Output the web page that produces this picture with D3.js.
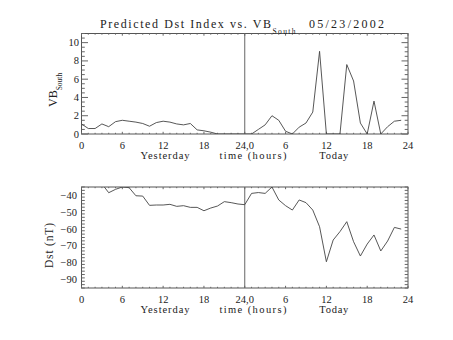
<!DOCTYPE html>
<html><head><meta charset="utf-8">
<script src="https://cdn.jsdelivr.net/npm/d3@7"></script>
<style>
html,body{margin:0;padding:0;background:#fff;}
svg text{font-family:"Liberation Serif","DejaVu Serif",serif;fill:#222;}
</style></head>
<body>
<svg id="c" width="453" height="340"></svg>
<script>
// ---- data ----
const hours = [0,1,2,3,4,5,6,7,8,9,10,11,12,13,14,15,16,17,18,19,20,21,22,23,
               24,25,26,27,28,29,30,31,32,33,34,35,36,37,38,39,40,41,42,43,44,45,46,47];
const vbSouth = [1.1,0.6,0.6,1.1,0.8,1.35,1.5,1.4,1.3,1.15,0.85,1.25,1.4,1.3,1.1,1.0,1.15,0.45,0.35,0.2,0,0,0,0,
                 0,0,0.5,1.0,2.0,1.5,0.3,0,0.75,1.2,2.4,9.05,0,0,0,7.6,5.8,1.2,0,3.6,0,0.8,1.4,1.5];
const dst = [-32,-31,-32,-33.1,-38.4,-36.4,-35,-35.4,-40.2,-40.4,-45.9,-45.7,-45.7,-45.3,-46.5,-46.1,-47.1,-47.1,-49.1,-47.5,-46.3,-43.7,-44.3,-45.1,
             -45.5,-38.8,-38.3,-38.8,-35,-42.7,-46.1,-48.7,-42.7,-44.3,-48.7,-58.6,-79.4,-66.5,-61.5,-55.6,-67.5,-76,-68.9,-63.5,-73,-67.1,-59,-60];
const xTickValues = [0,6,12,18,24,30,36,42,48];
const xTickLabels = ["0","6","12","18","24,0","6","12","18","24"];
const vbTicks = [0,2,4,6,8,10];
const dstTicks = [-90,-80,-70,-60,-50,-40];
const dayLabels = ["Yesterday","time (hours)","Today"];
const dayLabelHours = [12.28,25.2,37.1];
const titleMain = "Predicted Dst Index vs. VB";
const titleSub = "South";
const titleDate = "05/23/2002";

// ---- layout ----
const svg = d3.select("#c");
const X0 = 81.5, X1 = 408;
const x = d3.scaleLinear().domain([0,48]).range([X0,X1]);
const panels = [
  {y: d3.scaleLinear().domain([0,11]).range([134,33.5]), data: vbSouth, ticks: vbTicks, minor: 0.5, id:"p1", lx: X0-2.5},
  {y: d3.scaleLinear().domain([-95,-35]).range([288,187]), data: dst, ticks: dstTicks, minor: 2, id:"p2", lx: X0-4.5}
];
const lblLen = {"Yesterday":49,"time (hours)":67,"Today":29};

panels.forEach(p => {
  const [yb, yt] = p.y.range();
  const g = svg.append("g");
  svg.append("clipPath").attr("id", p.id).append("rect")
    .attr("x", X0).attr("y", yt).attr("width", X1-X0).attr("height", yb-yt);
  // frame
  g.append("rect").attr("x", X0).attr("y", yt).attr("width", X1-X0).attr("height", yb-yt)
    .attr("fill","none").attr("stroke","#555").attr("stroke-width",1);
  // x ticks (bottom & top, inward)
  const xMajLen = 2.2, xMinLen = 1.2;
  for (let h = 0; h <= 48; h++) {
    const maj = h % 6 === 0;
    const L = maj ? xMajLen : xMinLen;
    const xx = x(h);
    g.append("line").attr("x1",xx).attr("x2",xx).attr("y1",yb).attr("y2",yb-L).attr("stroke","#666");
    g.append("line").attr("x1",xx).attr("x2",xx).attr("y1",yt).attr("y2",yt+L).attr("stroke","#666");
  }
  // y ticks
  const dom = p.y.domain();
  const yMajLen = 6.5, yMinLen = 3.3;
  const minorVals = d3.range(dom[0], dom[1]+1e-9, p.minor);
  minorVals.forEach(v => {
    const maj = p.ticks.some(t => Math.abs(t - v) < 1e-9);
    const L = maj ? yMajLen : yMinLen;
    const yy = p.y(v);
    g.append("line").attr("x1",X0).attr("x2",X0+L).attr("y1",yy).attr("y2",yy).attr("stroke","#666");
    g.append("line").attr("x1",X1).attr("x2",X1-L).attr("y1",yy).attr("y2",yy).attr("stroke","#666");
  });
  // y labels
  p.ticks.forEach(t => {
    g.append("text").attr("x", p.lx).attr("y", p.y(t)+3.5).attr("text-anchor","end")
      .attr("font-size",10.5).text(String(t).replace("-","\u2212"));
  });
  // x labels
  xTickValues.forEach((v,i) => {
    g.append("text").attr("x", x(v)).attr("y", yb+15).attr("text-anchor","middle")
      .attr("font-size",10.5).text(xTickLabels[i]);
  });
  dayLabels.forEach((s,i) => {
    g.append("text").attr("x", x(dayLabelHours[i])).attr("y", yb+24.5).attr("text-anchor","middle")
      .attr("font-size",10.5).attr("textLength", lblLen[s]).attr("lengthAdjust","spacing").text(s);
  });
  // vertical line at 24
  g.append("line").attr("x1",x(24)).attr("x2",x(24)).attr("y1",yt).attr("y2",yb)
    .attr("stroke","#666").attr("stroke-width",1);
  // data line
  const line = d3.line().x((d,i)=>x(hours[i])).y(d=>p.y(d));
  g.append("path").attr("d", line(p.data)).attr("fill","none").attr("stroke","#444")
    .attr("stroke-width",0.9).attr("clip-path",`url(#${p.id})`);
});

// y-axis titles
const t1 = svg.append("text").attr("transform","translate(57,107) rotate(-90)").attr("font-size",12);
t1.append("tspan").text("VB");
t1.append("tspan").attr("font-size",7.5).attr("dy",5).text(titleSub);
svg.append("text").attr("transform","translate(53,245.5) rotate(-90)").attr("text-anchor","middle")
  .attr("font-size",11.5).attr("textLength",45).attr("lengthAdjust","spacing").text("Dst (nT)");

// title
const tt = svg.append("text").attr("x",100).attr("y",28).attr("font-size",12);
tt.append("tspan").attr("textLength",171).attr("lengthAdjust","spacing").text(titleMain);
tt.append("tspan").attr("font-size",7.5).attr("dy",5.5).attr("textLength",23).attr("lengthAdjust","spacing").text(titleSub);
svg.append("text").attr("x",309).attr("y",28).attr("font-size",12)
  .attr("textLength",75).attr("lengthAdjust","spacing").text(titleDate);
</script>
</body></html>
